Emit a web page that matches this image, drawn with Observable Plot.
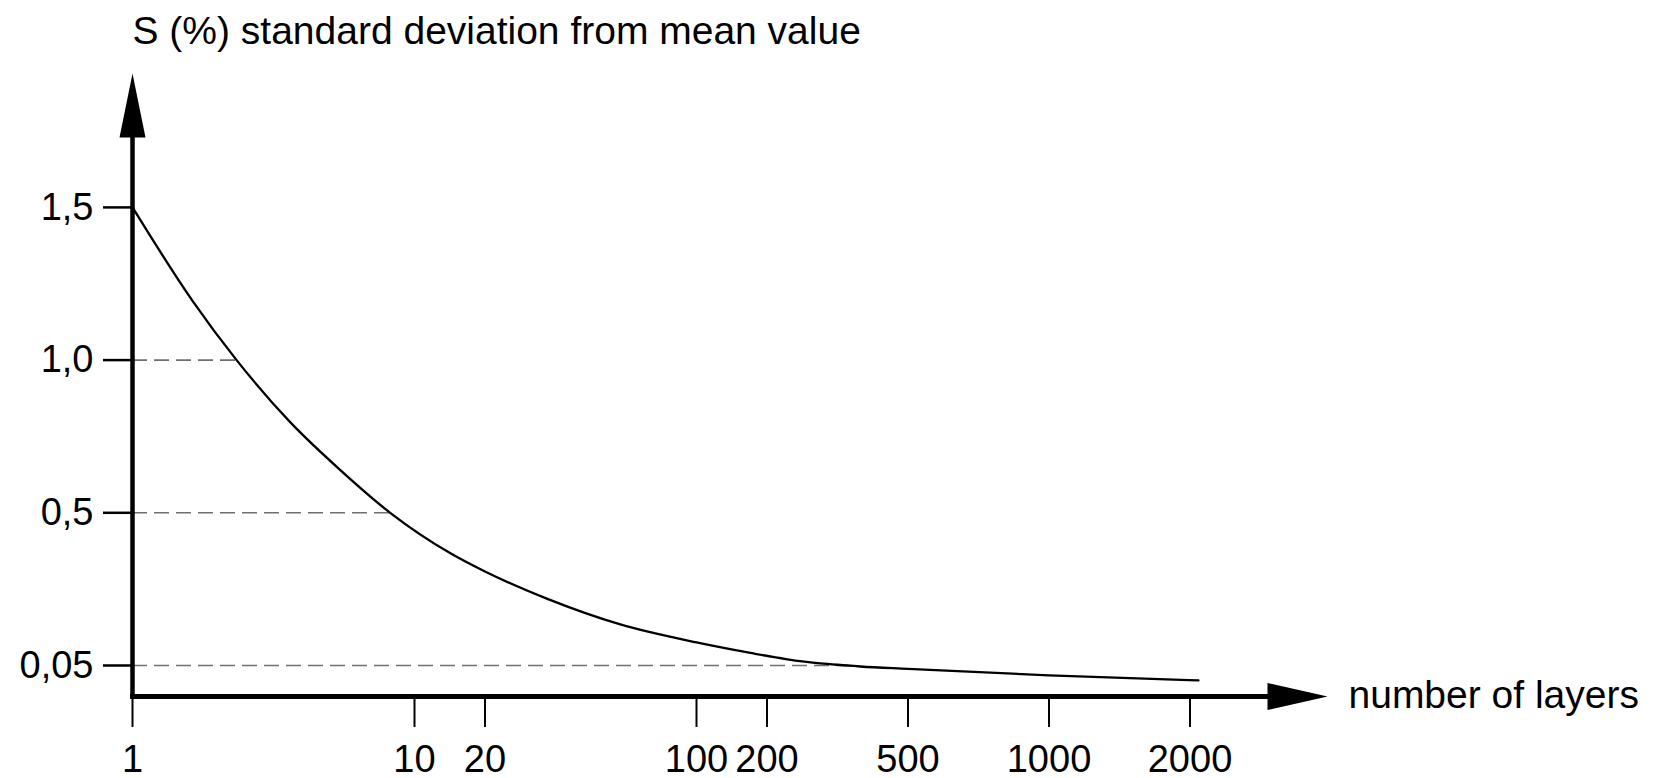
<!DOCTYPE html>
<html>
<head>
<meta charset="utf-8">
<script src="https://cdn.jsdelivr.net/npm/d3@7"></script>
<script src="https://cdn.jsdelivr.net/npm/@observablehq/plot@0.6"></script>
<style>html,body{margin:0;padding:0;background:#fff}</style>
</head>
<body>
<div id="chart"></div>
<script>
// ---- data ----
const layers    = [1, 1.63, 2.34, 3.63, 5.47, 8.2, 14.3, 20, 32, 56, 100, 170, 226, 283, 338, 367, 500, 1000, 2085];
const deviation = [1.5, 1.195, 1.0, 0.796, 0.639, 0.5, 0.38, 0.327, 0.247, 0.171, 0.118, 0.087, 0.069, 0.056, 0.05, 0.047, 0.04, 0.021, 0.006];
const xTickValues = [1, 10, 20, 100, 200, 500, 1000, 2000];
const yTickValues = [0.05, 0.5, 1.0, 1.5];
const yTickLabels = ["0,05", "0,5", "1,0", "1,5"];
const gridLevels = [0.05, 0.5, 1.0];
const gridUntil  = [338, 8.2, 2.34];   // number of layers where each dashed level meets the curve
const yTitle = "S (%) standard deviation from mean value";
const xTitle = "number of layers";

// ---- layout ----
const W = 1654, H = 778;
const mLeft = 132, mTop = 137, axisYpx = 696, arrowBaseX = 1267;
const xSlots = [0, 1, 1.25, 2, 2.25, 2.75, 3.25, 3.75]; // graduation spacing of the drawn axis (in decades)
const decade = 282;
const yBase = 665, yStep = 152.7;
const FONT = "'Liberation Sans', Arial, Helvetica, sans-serif";

const curveData = layers.map((n, i) => ({n, s: deviation[i]}));
const gridData = gridLevels.map((v, i) => ({v, until: gridUntil[i]}));

const chart = Plot.plot({
  width: W, height: H,
  marginLeft: mLeft, marginTop: mTop, marginBottom: H - axisYpx, marginRight: W - arrowBaseX,
  style: {fontFamily: FONT, background: "#fff", color: "#000", overflow: "visible"},
  x: {type: "log", domain: xTickValues, range: xSlots.map(s => mLeft + s * decade)},
  y: {type: "linear", domain: yTickValues, range: yTickValues.map((_, i) => yBase - i * yStep)},
  marks: [
    Plot.ruleY(gridData, {y: "v", x1: xTickValues[0], x2: "until", stroke: "#6f6f6f", strokeWidth: 1.6, strokeDasharray: "15,7"}),
    Plot.line(curveData, {x: "n", y: "s", curve: "monotone-x", stroke: "#000", strokeWidth: 2.3}),
    Plot.axisY({ticks: yTickValues, tickFormat: d => yTickLabels[yTickValues.indexOf(d)], tickSize: 29, tickPadding: 10, fontSize: 38, strokeWidth: 2.5, label: null}),
    Plot.axisX({ticks: xTickValues, tickFormat: () => "", tickSize: 31, strokeWidth: 2, label: null}),
    Plot.text(xTickValues, {x: d => d, text: d => String(d), frameAnchor: "bottom", lineAnchor: "top", dy: 49, fontSize: 38}),
    Plot.frame({anchor: "left", strokeWidth: 4.5, stroke: "#000"}),
    Plot.frame({anchor: "bottom", strokeWidth: 5, stroke: "#000"}),
    Plot.vector([0], {frameAnchor: "top-left", length: 64, r: 13, rotate: 0, anchor: "start", shape: "spike", fill: "#000", stroke: "none"}),
    Plot.vector([0], {frameAnchor: "bottom-right", length: 60, r: 13.5, rotate: 90, anchor: "start", shape: "spike", fill: "#000", stroke: "none"}),
    Plot.text([yTitle], {frameAnchor: "top-left", text: d => d, textAnchor: "start", lineAnchor: "bottom", dy: -94, fontSize: 39}),
    Plot.text([xTitle], {frameAnchor: "bottom-right", text: d => d, textAnchor: "start", lineAnchor: "bottom", dx: 81, dy: 11, fontSize: 39})
  ]
});
document.getElementById("chart").appendChild(chart);
</script>
</body>
</html>
